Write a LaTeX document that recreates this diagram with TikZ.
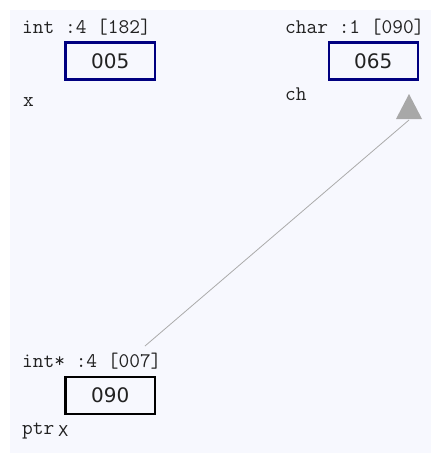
\documentclass[tikz,border=0pt]{standalone}
\usepackage{fontspec}
\setmainfont{DejaVu Sans}
\definecolor{panelbg}{HTML}{F7F8FE}
\definecolor{navy}{HTML}{000080}
\definecolor{linegray}{HTML}{ABABAB}
\definecolor{tipgray}{HTML}{A8A8A8}
\definecolor{txt}{HTML}{222222}
\tikzset{
  typelbl/.style={anchor=base west, inner sep=0pt, text=txt, font=\ttfamily\fontsize{20.8}{23}\selectfont},
  namelbl/.style={anchor=base west, inner sep=0pt, text=txt, font=\ttfamily\fontsize{20.8}{23}\selectfont},
  valbox/.style={draw=navy, line width=2.2pt, minimum width=89.3pt, minimum height=37pt, inner sep=0pt,
    text=txt, font=\fontsize{20}{22}\selectfont},
  ptrbox/.style={valbox, draw=black},
  ptrline/.style={draw=linegray, line width=0.8pt},
}
\begin{document}
\begin{tikzpicture}[x=1pt,y=-1pt]
\useasboundingbox (0,0) rectangle (431,453);
\fill[panelbg] (10,10) rectangle (431,453);
% x
\node[typelbl] (tx) at (22,33) {int :4 [182]};
\node[valbox] (bx) at (110.2,61) {005};
\node[namelbl] (nx) at (23,106) {x};
% ch
\node[typelbl] (tch) at (285,33) {char :1 [090]};
\node[valbox] (bch) at (373.3,61) {065};
\node[namelbl] (nch) at (285,100) {ch};
% ptr
\node[typelbl] (tptr) at (22,367) {int* :4 [007]};
\node[ptrbox] (bptr) at (110.2,395.4) {090};
\node[namelbl] (nptr) at (22,434) {ptr};
\node[anchor=base west, inner sep=0pt, text=txt, font=\fontsize{15}{18}\selectfont] (nptrx) at (58,436) {X};
% pointer arrow
\coordinate (pstart) at (145,346);
\coordinate (pend) at (409,120);
\coordinate (tipapex) at (409,94);
\draw[ptrline] (pstart) -- (pend);
\fill[tipgray] (tipapex) -- ([xshift=13pt,yshift=-25pt]tipapex) -- ([xshift=-13pt,yshift=-25pt]tipapex) -- cycle;
\end{tikzpicture}
\end{document}
